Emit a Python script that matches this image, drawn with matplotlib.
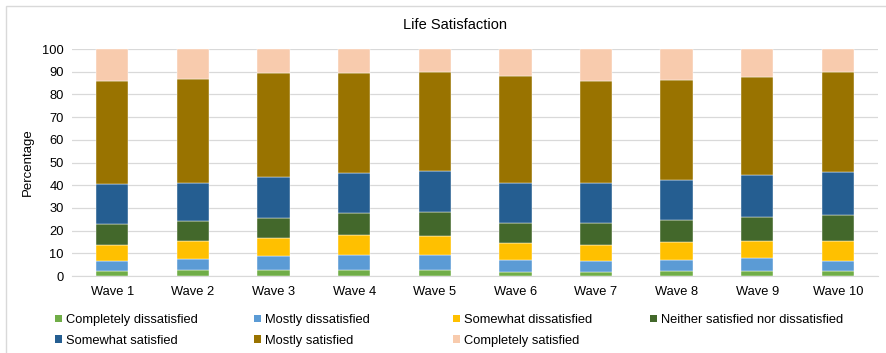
import numpy as np
import matplotlib.pyplot as plt
from matplotlib.patches import Patch, Rectangle

plt.rcParams["font.family"] = ["Liberation Sans", "DejaVu Sans"]

waves = ["Wave 1", "Wave 2", "Wave 3", "Wave 4", "Wave 5",
         "Wave 6", "Wave 7", "Wave 8", "Wave 9", "Wave 10"]

categories = ["Completely dissatisfied", "Mostly dissatisfied", "Somewhat dissatisfied",
              "Neither satisfied nor dissatisfied", "Somewhat satisfied",
              "Mostly satisfied", "Completely satisfied"]

completely_dissatisfied = [2.2, 2.6, 2.5, 2.5, 2.5, 1.8, 1.9, 2.2, 2.2, 2.1]
mostly_dissatisfied = [4.4, 4.7, 6.5, 6.6, 6.6, 5.2, 4.9, 4.8, 5.6, 4.5]
somewhat_dissatisfied = [6.9, 8.0, 7.7, 9.0, 8.7, 7.4, 7.0, 7.8, 7.5, 8.7]
neither = [9.6, 8.8, 9.0, 9.8, 10.4, 8.9, 9.5, 10.0, 10.8, 11.6]
somewhat_satisfied = [17.6, 16.7, 17.8, 17.5, 18.3, 17.7, 17.7, 17.5, 18.4, 19.1]
mostly_satisfied = [45.1, 46.0, 45.8, 44.2, 43.2, 47.0, 45.0, 44.2, 43.2, 43.7]
completely_satisfied = [14.2, 13.2, 10.7, 10.4, 10.3, 12.0, 14.0, 13.5, 12.3, 10.3]

series = [completely_dissatisfied, mostly_dissatisfied, somewhat_dissatisfied,
          neither, somewhat_satisfied, mostly_satisfied, completely_satisfied]
colors = ["#70AD47", "#5B9BD5", "#FFC000", "#43682B", "#255E91", "#997300", "#F8CBAD"]

fig = plt.figure(figsize=(8.87, 3.53), dpi=100)
ax = fig.add_axes([0.0812, 0.218, 0.9088, 0.643])

x = np.arange(len(waves))
bottom = np.zeros(len(waves))
for vals, col in zip(series, colors):
    ax.bar(x, vals, 0.4, bottom=bottom, color=col, edgecolor="white", linewidth=0.3, zorder=3)
    bottom += np.array(vals)

ax.set_xlim(-0.5, len(waves) - 0.5)
ax.set_ylim(0, 100)
ax.set_yticks(range(0, 101, 10))
ax.set_xticks(x)
ax.set_xticklabels(waves)
ax.tick_params(axis="both", length=0, labelsize=9.3, colors="#000000")
ax.tick_params(axis="y", pad=6)
ax.tick_params(axis="x", pad=7)
ax.grid(axis="y", color="#D9D9D9", linewidth=0.9, zorder=0)
for s in ["left", "right", "top"]:
    ax.spines[s].set_visible(False)
ax.spines["bottom"].set_color("#D9D9D9")
ax.set_ylabel("Percentage", fontsize=9.5, labelpad=6)
fig.text(0.513, 0.93, "Life Satisfaction", ha="center", va="center", fontsize=10.5)

# legend laid out in evenly spaced columns like the original
col_x = [0.062, 0.286, 0.511, 0.733]
columns = [[0, 4], [1, 5], [2, 6], [3]]
for cx, idxs in zip(col_x, columns):
    handles = [Patch(facecolor=colors[i], edgecolor="none") for i in idxs]
    labels = [categories[i] for i in idxs]
    fig.legend(handles, labels, loc="upper left", bbox_to_anchor=(cx, 0.11),
               frameon=False, fontsize=9.3, handlelength=0.55, handleheight=0.55,
               handletextpad=0.3, borderpad=0, borderaxespad=0, labelspacing=0.68)

fig.patches.append(Rectangle((0.0068, -0.02), 1.05, 1.003, transform=fig.transFigure,
                             fill=False, edgecolor="#D9D9D9", linewidth=1))

fig.savefig("out.png", dpi=100)
